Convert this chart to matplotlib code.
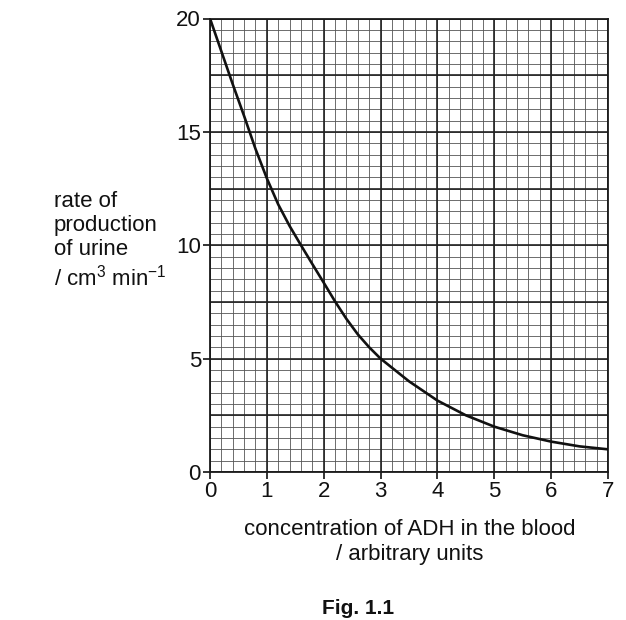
import numpy as np
import matplotlib
matplotlib.use('Agg')
import matplotlib.pyplot as plt

plt.rcParams['font.family'] = ['Liberation Sans', 'DejaVu Sans']
plt.rcParams['mathtext.fontset'] = 'custom'
plt.rcParams['mathtext.rm'] = 'Liberation Sans'
plt.rcParams['mathtext.it'] = 'Liberation Sans:italic'

# values
adh = [0, 0.2, 0.4, 0.6, 0.8, 1.0, 1.2, 1.4, 1.6, 1.8, 2.0, 2.2, 2.4, 2.6, 2.8, 3.0,
       3.5, 4.0, 4.5, 5.0, 5.5, 6.0, 6.5, 7.0]
urine_rate = [20, 18.55, 17.1, 15.7, 14.25, 12.95, 11.8, 10.85, 10.0, 9.17, 8.35, 7.52, 6.75, 6.07, 5.5, 5.0,
              4.0, 3.15, 2.5, 2.0, 1.62, 1.34, 1.13, 1.0]

x_ticks = [0, 1, 2, 3, 4, 5, 6, 7]
y_ticks = [0, 5, 10, 15, 20]

fig = plt.figure(figsize=(6.26, 6.2), dpi=100)
ax = fig.add_axes([210/626, 1 - 472/620, 398/626, 453.5/620])

# graph paper grid
for xv in np.arange(0, 7.001, 0.2):
    ax.axvline(xv, color='#555555', lw=0.6, zorder=1)
for yv in np.arange(0, 20.001, 0.5):
    ax.axhline(yv, color='#555555', lw=0.6, zorder=1)
for xv in np.arange(0, 7.001, 1):
    ax.axvline(xv, color='#222222', lw=1.2, zorder=2)
for yv in np.arange(0, 20.001, 2.5):
    ax.axhline(yv, color='#222222', lw=1.2, zorder=2)

ax.plot(adh, urine_rate, color='#111111', lw=1.9, zorder=3,
        solid_capstyle='round', solid_joinstyle='round')

ax.set_xlim(0, 7)
ax.set_ylim(0, 20)
ax.set_xticks(x_ticks)
ax.set_yticks(y_ticks)
ax.tick_params(direction='out', length=5, width=1.2, labelsize=16, pad=1.5, colors='#111111')
for s in ax.spines.values():
    s.set_linewidth(1.3)
    s.set_color('#1a1a1a')

fig.text(54/626, 1 - 191/620, 'rate of\nproduction\nof urine\n/ cm$^{3}$ min$^{-1}$',
         ha='left', va='top', fontsize=16, linespacing=1.2, color='#111111')
fig.text(410/626, 1 - 519/620, 'concentration of ADH in the blood\n/ arbitrary units',
         ha='center', va='top', fontsize=16, linespacing=1.22, color='#111111')
fig.text(358/626, 1 - 608/620, 'Fig. 1.1', ha='center', va='center', fontsize=15,
         fontweight='bold', color='#111111')

fig.savefig('out.png', dpi=100)
